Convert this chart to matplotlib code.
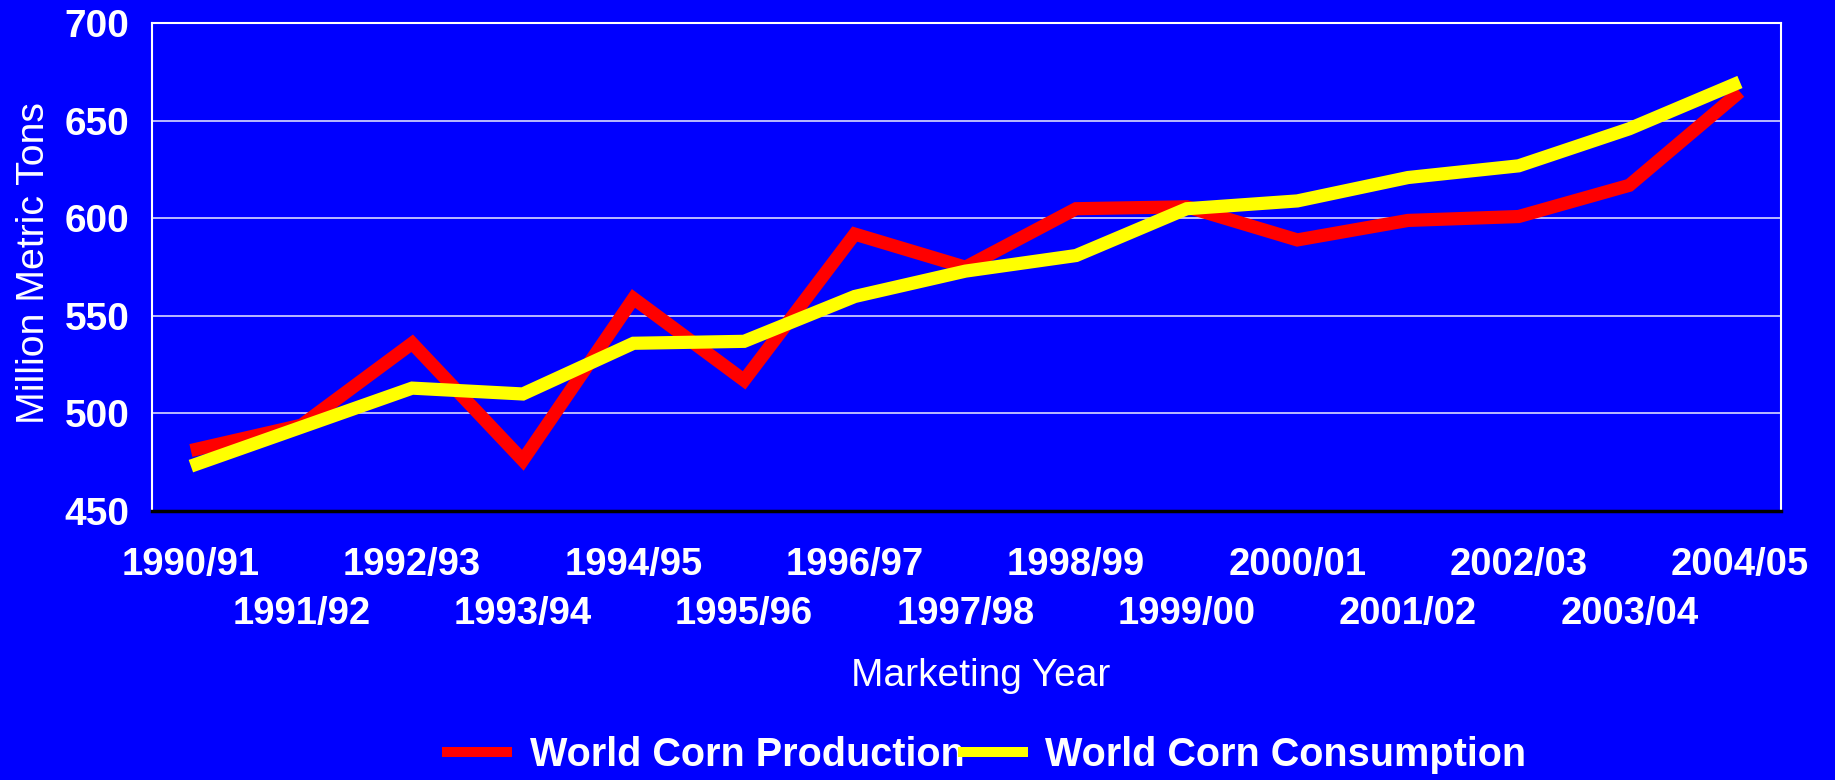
import numpy as np
import matplotlib.pyplot as plt

plt.rcParams['font.family'] = ['Liberation Sans', 'DejaVu Sans']

# marketing years and world corn balance (million metric tons)
years = ['1990/91', '1991/92', '1992/93', '1993/94', '1994/95', '1995/96', '1996/97',
         '1997/98', '1998/99', '1999/00', '2000/01', '2001/02', '2002/03', '2003/04', '2004/05']
production = [481, 494, 536, 476, 559, 517, 592, 575, 605, 606, 589, 599, 601, 617, 665]
consumption = [473, 493, 513, 510, 536, 537, 560, 573, 581, 605, 609, 621, 627, 646, 670]
yticks = [450, 500, 550, 600, 650, 700]

blue = '#0000ff'
fig = plt.figure(figsize=(18.35, 7.8), dpi=100, facecolor=blue)
ax = fig.add_axes([0.0828, 0.3449, 0.8877, 0.625])
ax.set_facecolor(blue)

x = np.arange(len(years))
ax.plot(x, production, color='#ff0000', lw=9.5, solid_joinstyle='miter',
        solid_capstyle='butt', label='World Corn Production', zorder=3)
ax.plot(x, consumption, color='#ffff00', lw=9.5, solid_joinstyle='miter',
        solid_capstyle='butt', label='World Corn Consumption', zorder=4)

ax.set_ylim(450, 700)
ax.set_xlim(-0.352, 14.37)
ax.set_yticks(yticks)
ax.set_yticklabels([str(v) for v in yticks], fontsize=28, fontweight='bold', color='white')
ax.tick_params(axis='y', length=0, pad=16)

# staggered category labels: even years on major ticks, odd years on minor ticks one row lower
ax.set_xticks(x[::2])
ax.set_xticklabels(years[::2], fontsize=27.5, fontweight='bold', color='white')
ax.set_xticks(x[1::2], minor=True)
ax.set_xticklabels(years[1::2], minor=True, fontsize=27.5, fontweight='bold', color='white')
ax.tick_params(axis='x', which='major', length=0, pad=26)
ax.tick_params(axis='x', which='minor', length=0, pad=61)

for v in yticks[1:-1]:
    ax.axhline(v, color='#c8c8ff', lw=1.3, zorder=1)

for s in ['left', 'top', 'right']:
    ax.spines[s].set_color('white')
    ax.spines[s].set_linewidth(1.5)
ax.spines['bottom'].set_color('black')
ax.spines['bottom'].set_linewidth(2.5)

ax.set_ylabel('Million Metric Tons', fontsize=28.3, color='white')
ax.yaxis.set_label_coords(-0.0614, 0.509)
ax.set_xlabel('Marketing Year', fontsize=28, color='white')
ax.xaxis.set_label_coords(0.509, -0.3015)

leg = fig.legend(loc='center', bbox_to_anchor=(0.5365, 0.032), ncol=2, frameon=False,
                 prop={'size': 28.5, 'weight': 'bold'}, handlelength=1.75,
                 handletextpad=0.45, columnspacing=-0.15, borderpad=0)
for t in leg.get_texts():
    t.set_color('white')
for l in leg.get_lines():
    l.set_linewidth(7.2)

fig.savefig('out.png', dpi=100, facecolor=blue)
